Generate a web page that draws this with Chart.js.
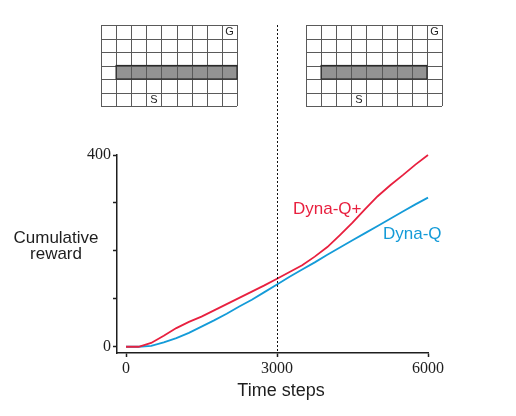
<!DOCTYPE html>
<html>
<head>
<meta charset="utf-8">
<title>Dyna-Q vs Dyna-Q+ (shortcut maze)</title>
<script src="https://cdn.jsdelivr.net/npm/chart.js@4.4.1/dist/chart.umd.min.js"></script>
<style>
  html, body { margin: 0; padding: 0; background: #fff; }
  canvas { display: block; }
</style>
</head>
<body>
<canvas id="rewardChart" width="516" height="416"></canvas>
<script>
"use strict";

// time steps and cumulative reward of each agent
const steps = [0, 250, 500, 750, 1000, 1250, 1500, 1750, 2000, 2250, 2500, 2750,
               3000, 3250, 3500, 3750, 4000, 4250, 4500, 4750, 5000, 5250, 5500, 5750, 6000];
const dynaQPlus = [0, 0, 8, 23, 39, 52, 63, 76, 89, 102, 115, 128,
                   142, 156, 170, 188, 208, 233, 259, 287, 314, 337, 358, 380, 400];
const dynaQ = [0, 0, 2, 9, 18, 29, 42, 55, 69, 84, 98, 114,
               130, 146, 161, 176, 192, 207, 222, 237, 252, 267, 282, 297, 311];

const xTicks = [0, 3000, 6000];
const yTicks = [0, 100, 200, 300, 400];
const yLabelled = [0, 400];
const changeStep = 3000;   // the maze changes here

// the two mazes: wall columns in row 3, goal and start cells
const mazeBefore = { wall: [1, 2, 3, 4, 5, 6, 7, 8] };
const mazeAfter  = { wall: [1, 2, 3, 4, 5, 6, 7] };

const red = "#e8203f";
const blue = "#149bd8";
const ink = "#1e1e1e";
const sans = "'Liberation Sans', Arial, sans-serif";
const serif = "'Liberation Serif', 'Times New Roman', serif";

let points = function (ys) {
  return steps.map(function (s, i) { return { x: s, y: ys[i] }; });
};

let drawMaze = function (ctx, left, top, maze) {
  const cols = 9, rows = 6;
  const w = 136, h = 81;
  const cw = w / cols, ch = h / rows;
  // wall
  const c0 = Math.min.apply(null, maze.wall);
  const c1 = Math.max.apply(null, maze.wall) + 1;
  ctx.fillStyle = "#939393";
  ctx.fillRect(left + c0 * cw, top + 3 * ch, (c1 - c0) * cw, ch);
  // grid
  ctx.strokeStyle = "#5a5a5a";
  ctx.lineWidth = 1;
  ctx.beginPath();
  for (let c = 0; c <= cols; c++) {
    const x = Math.round(left + c * cw) + 0.5;
    ctx.moveTo(x, top); ctx.lineTo(x, top + h);
  }
  for (let r = 0; r <= rows; r++) {
    const y = Math.round(top + r * ch) + 0.5;
    ctx.moveTo(left, y); ctx.lineTo(left + w, y);
  }
  ctx.stroke();
  ctx.strokeStyle = "#2a2a2a";
  ctx.lineWidth = 1.2;
  ctx.strokeRect(left + c0 * cw, top + 3 * ch, (c1 - c0) * cw, ch);
  // goal and start
  ctx.fillStyle = ink;
  ctx.font = "11px " + sans;
  ctx.textAlign = "center";
  ctx.textBaseline = "middle";
  ctx.fillText("G", left + 8.5 * cw, top + 0.5 * ch + 0.5);
  ctx.fillText("S", left + 3.5 * cw, top + 5.5 * ch + 0.5);
};

const decorations = {
  id: "decorations",
  afterDraw: function (chart) {
    const ctx = chart.ctx;
    const area = chart.chartArea;
    const xs = chart.scales.x;
    ctx.save();

    drawMaze(ctx, 101, 25, mazeBefore);
    drawMaze(ctx, 306, 25, mazeAfter);

    // dotted line where the maze changes
    const xc = Math.round(xs.getPixelForValue(changeStep)) + 0.5;
    ctx.strokeStyle = "#111";
    ctx.lineWidth = 1;
    ctx.setLineDash([2, 2]);
    ctx.beginPath();
    ctx.moveTo(xc, 25);
    ctx.lineTo(xc, area.bottom);
    ctx.stroke();
    ctx.setLineDash([]);

    // axis titles
    ctx.fillStyle = ink;
    ctx.textAlign = "center";
    ctx.textBaseline = "alphabetic";
    ctx.font = "18px " + sans;
    ctx.fillText("Time steps", 281, 396);
    ctx.font = "17px " + sans;
    ctx.fillText("Cumulative", 56, 243);
    ctx.fillText("reward", 56, 259);

    // series labels
    ctx.textAlign = "left";
    ctx.fillStyle = red;
    ctx.fillText("Dyna-Q+", 293, 214);
    ctx.fillStyle = blue;
    ctx.fillText("Dyna-Q", 383, 239);

    ctx.restore();
  }
};

const axisLook = {
  display: true,
  drawOnChartArea: false,
  drawTicks: true,
  tickLength: 4,
  tickWidth: 1.5,
  tickColor: ink
};

let config = {
  type: "line",
  data: {
    datasets: [
      {
        label: "Dyna-Q+",
        data: points(dynaQPlus),
        borderColor: red,
        borderWidth: 1.8,
        pointRadius: 0,
        tension: 0,
        clip: false
      },
      {
        label: "Dyna-Q",
        data: points(dynaQ),
        borderColor: blue,
        borderWidth: 1.8,
        pointRadius: 0,
        tension: 0,
        clip: false
      }
    ]
  },
  options: {
    responsive: false,
    animation: false,
    events: [],
    layout: { padding: { left: 0, right: 88, top: 155, bottom: 0 } },
    plugins: {
      legend: { display: false },
      tooltip: { enabled: false }
    },
    scales: {
      x: {
        type: "linear",
        min: -179,
        max: 6000,
        afterFit: function (scale) { scale.height = 63; },
        afterBuildTicks: function (scale) {
          scale.ticks = xTicks.map(function (v) { return { value: v }; });
        },
        grid: axisLook,
        border: { display: true, color: ink, width: 1.5 },
        ticks: {
          color: ink,
          padding: 2,
          maxRotation: 0,
          font: { family: serif, size: 16 },
          callback: function (value) { return String(value); }
        }
      },
      y: {
        type: "linear",
        min: -13,
        max: 400,
        afterFit: function (scale) { scale.width = 117; },
        afterBuildTicks: function (scale) {
          scale.ticks = yTicks.map(function (v) { return { value: v }; });
        },
        grid: axisLook,
        border: { display: true, color: ink, width: 1.5 },
        ticks: {
          color: ink,
          padding: 2,
          font: { family: serif, size: 16 },
          callback: function (value) {
            return yLabelled.indexOf(value) >= 0 ? String(value) : "";
          }
        }
      }
    }
  },
  plugins: [decorations]
};

const rewardChart = new Chart(document.getElementById("rewardChart"), config);
</script>
</body>
</html>
